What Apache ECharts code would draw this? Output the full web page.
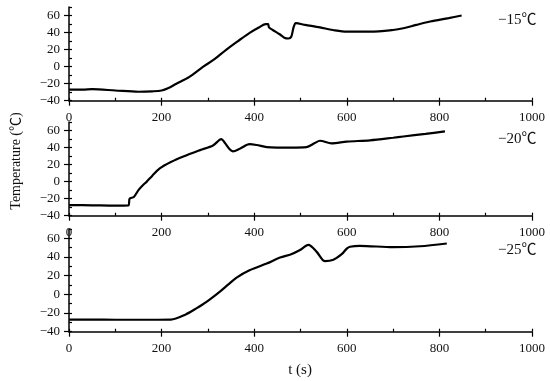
<!DOCTYPE html>
<html>
<head>
<meta charset="utf-8">
<script src="https://cdn.jsdelivr.net/npm/echarts@6/dist/echarts.min.js"></script>
<style>html,body{margin:0;padding:0;background:#fff;}#c{width:550px;height:381px;}</style>
</head>
<body>
<div id="c"></div>
<script>
// Time (s) / temperature (°C) pairs
const series15 = [[0,-27],[30,-27],[50,-26.5],[100,-28],[150,-29.5],[180,-29],[200,-28],[215,-25],[232,-20],[260,-12],[290,0],[315,9],[340,20],[365,30],[391,40],[410,46],[425,50],[430,50],[432,46],[440,43],[455,38],[465,34],[474,33],[480,35],[485,46],[490,51],[510,49],[542,46],[570,43],[600,41],[650,41],[700,43],[722,45],[750,49],[780,53],[820,57],[848,60]];
const series20 = [[0,-27.5],[50,-27.8],[100,-28.2],[128,-28],[131,-20],[140,-18],[150,-10],[160,-4],[168,0],[180,7],[196,15.5],[220,23],[247,29.5],[283,37],[311,42.5],[325,49],[329,50],[336,46],[347,38],[354,35.5],[370,39],[390,44],[405,43],[427,40.5],[449,40],[480,40],[513,40.5],[530,45],[542,48],[567,45],[600,47],[650,48.5],[700,51.5],[722,53],[770,56],[812,59]];
const series25 = [[0,-27],[50,-27],[100,-27.2],[150,-27.2],[220,-27],[252,-21.5],[275,-15],[297,-8],[326,3],[345,11],[362,18],[391,26],[427,33],[456,39.5],[480,43],[499,47.5],[517,53],[535,45.5],[553,35.5],[571,37],[589,43],[600,49],[607,51],[628,52],[700,50.5],[758,51.5],[816,54.5]];
const panelLabels = ['−15℃', '−20℃', '−25℃'];
const xTicks = [0, 200, 400, 600, 800, 1000];
const yTicks = [-40, -20, 0, 20, 40, 60];

const FONT = '"Liberation Serif", "Noto Sans CJK SC", serif';
const grids = [
  {left: 69, width: 463, top: 7, height: 93.7},
  {left: 69, width: 463, top: 122, height: 93.7},
  {left: 69, width: 463, top: 229, height: 102.7}
];
const data = [series15, series20, series25];
const xAxis = [], yAxis = [], seriesArr = [];
grids.forEach((g, i) => {
  xAxis.push({type: 'value', gridIndex: i, min: 0, max: 1000, interval: 200,
    axisLine: {onZero: false, lineStyle: {color: '#000', width: 1.5}},
    axisTick: {show: true, length: 5, lineStyle: {color: '#000', width: 1.2}},
    axisLabel: {color: '#111', fontFamily: FONT, fontSize: 13, margin: 10,
      formatter: v => xTicks.includes(v) ? String(v) : ''},
    splitLine: {show: false}});
  xAxis.push({type: 'value', gridIndex: i, min: 0, max: 1000, interval: 100, position: 'bottom',
    axisLine: {show: false, onZero: false},
    axisTick: {show: true, inside: true, length: 3, lineStyle: {color: '#000', width: 1.2}},
    axisLabel: {show: false}, splitLine: {show: false}});
  yAxis.push({type: 'value', gridIndex: i, min: -40, max: 70, interval: 20,
    axisLine: {show: true, onZero: false, lineStyle: {color: '#000', width: 1.5}},
    axisTick: {show: true, length: 5, lineStyle: {color: '#000', width: 1.2}},
    axisLabel: {color: '#111', fontFamily: FONT, fontSize: 13, margin: 9, showMaxLabel: false,
      formatter: v => yTicks.includes(v) ? String(v).replace('-', '−') : ''},
    splitLine: {show: false}});
  yAxis.push({type: 'value', gridIndex: i, min: -40, max: 70, interval: 10, position: 'left',
    axisLine: {show: false, onZero: false},
    axisTick: {show: true, inside: true, length: 3, lineStyle: {color: '#000', width: 1.2}},
    axisLabel: {show: false}, splitLine: {show: false}});
  seriesArr.push({type: 'line', xAxisIndex: i * 2, yAxisIndex: i * 2, data: data[i],
    smooth: 0.3, symbol: 'none', lineStyle: {color: '#000', width: 2.2}});
});

const chart = echarts.init(document.getElementById('c'), null, {renderer: 'canvas'});
chart.setOption({
  animation: false,
  backgroundColor: '#fff',
  grid: grids,
  xAxis: xAxis,
  yAxis: yAxis,
  series: seriesArr,
  graphic: [
    {type: 'text', left: 498, top: 13, style: {text: panelLabels[0], font: '15px ' + FONT, fill: '#111'}},
    {type: 'text', left: 498, top: 132, style: {text: panelLabels[1], font: '15px ' + FONT, fill: '#111'}},
    {type: 'text', left: 498, top: 243, style: {text: panelLabels[2], font: '15px ' + FONT, fill: '#111'}},
    {type: 'text', x: 300, y: 370, style: {text: 't (s)', font: '15px ' + FONT, fill: '#111', align: 'center', verticalAlign: 'middle'}},
    {type: 'text', x: 16, y: 161, rotation: Math.PI / 2, style: {text: 'Temperature (℃)', font: '14px ' + FONT, fill: '#111', align: 'center', verticalAlign: 'middle'}}
  ]
});
</script>
</body>
</html>
